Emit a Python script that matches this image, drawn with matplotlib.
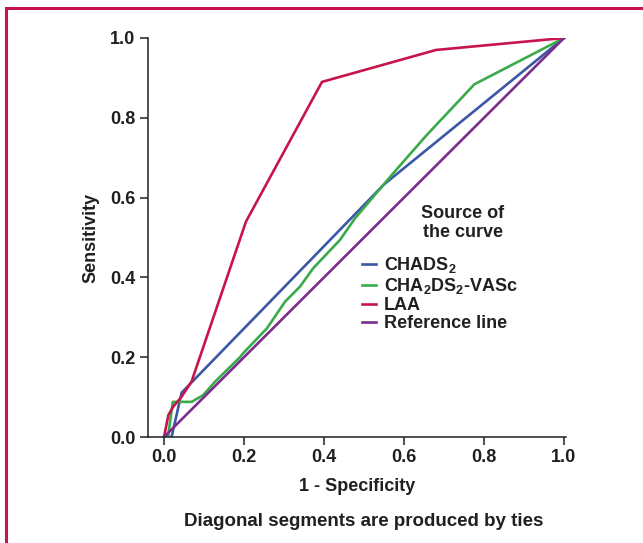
import matplotlib
matplotlib.use("Agg")
import matplotlib.pyplot as plt
from matplotlib.patches import Rectangle

plt.rcParams['font.family'] = ['Liberation Sans', 'DejaVu Sans']
plt.rcParams['font.weight'] = 'bold'
plt.rcParams['axes.labelweight'] = 'bold'
plt.rcParams['mathtext.fontset'] = 'custom'
plt.rcParams['mathtext.rm'] = 'Liberation Sans:bold'
plt.rcParams['mathtext.bf'] = 'Liberation Sans:bold'

### data
chads_x = [0.0, 0.019, 0.044, 0.55, 1.0]
chads_y = [0.0, 0.0, 0.111, 0.633, 1.0]

vasc_x = [0.01, 0.022, 0.069, 0.098, 0.128, 0.19, 0.198, 0.257, 0.3025, 0.34, 0.373,
          0.44, 0.4775, 0.573, 0.657, 0.776, 1.0]
vasc_y = [0.0, 0.088, 0.088, 0.105, 0.139, 0.20, 0.21, 0.272, 0.339, 0.377, 0.423,
          0.494, 0.548, 0.661, 0.757, 0.884, 1.0]

laa_x = [0.0, 0.011, 0.023, 0.044, 0.069, 0.073, 0.205, 0.395, 0.68, 1.0]
laa_y = [0.0, 0.055, 0.076, 0.101, 0.139, 0.151, 0.54, 0.89, 0.97, 1.0]

ref_x = [0.0, 1.0]
ref_y = [0.0, 1.0]

ticks = [0.0, 0.2, 0.4, 0.6, 0.8, 1.0]
tick_labels = ["0.0", "0.2", "0.4", "0.6", "0.8", "1.0"]

c_blue = "#3b57a6"
c_green = "#3aaa4b"
c_red = "#c8144b"
c_purple = "#7b2d8c"
dark = "#231f20"
fs = 13

fig = plt.figure(figsize=(6.43, 5.43), dpi=100)
ax = fig.add_axes([148/643, 106/543, 418/643, 399/543])

ax.plot(chads_x, chads_y, color=c_blue, lw=1.9, label=r"CHADS$_{2}$")
ax.plot(vasc_x, vasc_y, color=c_green, lw=1.9, label=r"CHA$_{2}$DS$_{2}$-VASc")
ax.plot(laa_x, laa_y, color=c_red, lw=1.9, label="LAA")
ax.plot(ref_x, ref_y, color=c_purple, lw=1.9, label="Reference line")

ax.set_xlim(-0.04, 1.005)
ax.set_ylim(0, 1.0)
ax.set_xticks(ticks)
ax.set_xticklabels(tick_labels)
ax.set_yticks(ticks)
ax.set_yticklabels(tick_labels)
for s in ["top", "right"]:
    ax.spines[s].set_visible(False)
for s in ["left", "bottom"]:
    ax.spines[s].set_color(dark)
    ax.spines[s].set_linewidth(1.1)
ax.tick_params(colors=dark, length=6, width=1.1, labelsize=fs, pad=3)
ax.set_xlabel("1 - Specificity", fontsize=fs, color=dark, labelpad=8)
ax.set_ylabel("Sensitivity", fontsize=fs, color=dark, labelpad=8)

# legend title drawn on its own, legend rows below it
fig.text(463/643, 1 - 223/543, "Source of\nthe curve", ha="center", va="center",
         fontsize=fs, color=dark, linespacing=1.15)
leg = ax.legend(loc="upper left", bbox_to_anchor=((355 - 148)/418, (437 - 248)/399),
                frameon=False, handlelength=0.75, handletextpad=0.45,
                labelspacing=0.06, fontsize=fs, borderaxespad=0)
for t in leg.get_texts():
    t.set_color(dark)

fig.text(364/643, 1 - 521/543, "Diagonal segments are produced by ties",
         ha="center", va="center", fontsize=13.5, color=dark)

# red frame round the figure
fig.patches.append(Rectangle((6/643, -0.1), 1.2, (543 - 8)/543 + 0.1,
                             transform=fig.transFigure, fill=False,
                             edgecolor=c_red, lw=2.2))

fig.savefig("out.png", dpi=100)
